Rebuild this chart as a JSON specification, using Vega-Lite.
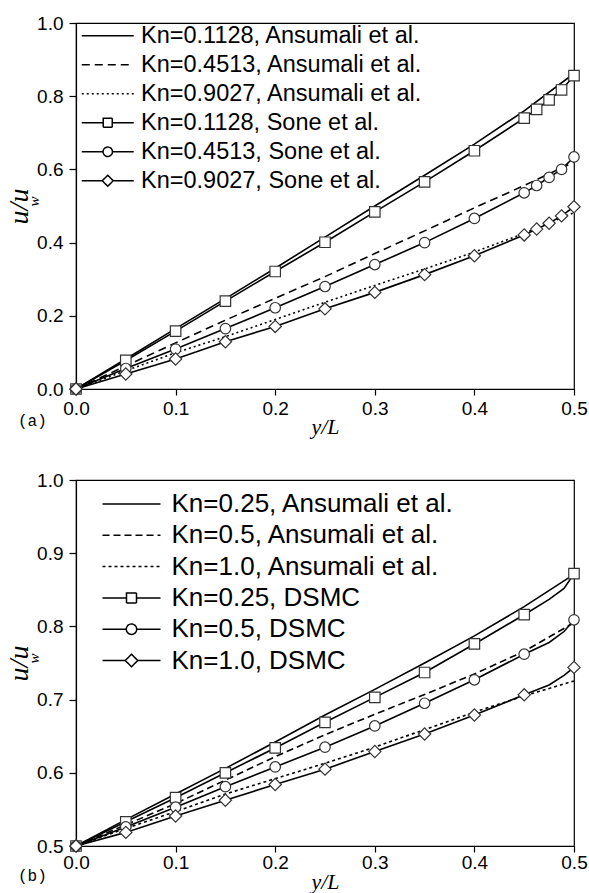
{
  "$schema": "https://vega.github.io/schema/vega-lite/v6.json",
  "background": "white",
  "padding": {"left": 4, "top": 13, "right": 0, "bottom": 0},
  "spacing": 32,
  "config": {
    "view": {"stroke": "black", "strokeWidth": 1.2},
    "axis": {
      "grid": false,
      "labelFont": "Liberation Sans",
      "labelFontSize": 19,
      "labelColor": "black",
      "domainColor": "black",
      "domainWidth": 1.2,
      "tickColor": "black",
      "tickWidth": 1.2,
      "tickSize": 6,
      "titleFont": "Liberation Serif",
      "titleFontStyle": "italic",
      "titleFontWeight": "normal",
      "titleColor": "black"
    },
    "title": {"font": "Liberation Mono", "fontSize": 16, "fontWeight": "normal", "color": "black"}
  },
  "resolve": {
    "scale": {"shape": "independent", "strokeDash": "independent"},
    "legend": {"shape": "independent", "strokeDash": "independent"}
  },
  "datasets": {
    "a_curves": [
      {"series": "Kn=0.1128, Ansumali et al.", "y_L": 0, "u_uw": 0},
      {"series": "Kn=0.1128, Ansumali et al.", "y_L": 0.05, "u_uw": 0.082},
      {"series": "Kn=0.1128, Ansumali et al.", "y_L": 0.1, "u_uw": 0.165},
      {"series": "Kn=0.1128, Ansumali et al.", "y_L": 0.15, "u_uw": 0.247},
      {"series": "Kn=0.1128, Ansumali et al.", "y_L": 0.2, "u_uw": 0.33},
      {"series": "Kn=0.1128, Ansumali et al.", "y_L": 0.25, "u_uw": 0.415},
      {"series": "Kn=0.1128, Ansumali et al.", "y_L": 0.3, "u_uw": 0.5},
      {"series": "Kn=0.1128, Ansumali et al.", "y_L": 0.35, "u_uw": 0.584},
      {"series": "Kn=0.1128, Ansumali et al.", "y_L": 0.4, "u_uw": 0.669},
      {"series": "Kn=0.1128, Ansumali et al.", "y_L": 0.45, "u_uw": 0.76},
      {"series": "Kn=0.1128, Ansumali et al.", "y_L": 0.5, "u_uw": 0.862},
      {"series": "Kn=0.4513, Ansumali et al.", "y_L": 0, "u_uw": 0},
      {"series": "Kn=0.4513, Ansumali et al.", "y_L": 0.05, "u_uw": 0.063},
      {"series": "Kn=0.4513, Ansumali et al.", "y_L": 0.1, "u_uw": 0.126},
      {"series": "Kn=0.4513, Ansumali et al.", "y_L": 0.15, "u_uw": 0.188},
      {"series": "Kn=0.4513, Ansumali et al.", "y_L": 0.2, "u_uw": 0.248},
      {"series": "Kn=0.4513, Ansumali et al.", "y_L": 0.25, "u_uw": 0.307},
      {"series": "Kn=0.4513, Ansumali et al.", "y_L": 0.3, "u_uw": 0.37},
      {"series": "Kn=0.4513, Ansumali et al.", "y_L": 0.35, "u_uw": 0.432},
      {"series": "Kn=0.4513, Ansumali et al.", "y_L": 0.4, "u_uw": 0.495},
      {"series": "Kn=0.4513, Ansumali et al.", "y_L": 0.45, "u_uw": 0.556},
      {"series": "Kn=0.4513, Ansumali et al.", "y_L": 0.5, "u_uw": 0.62},
      {"series": "Kn=0.9027, Ansumali et al.", "y_L": 0, "u_uw": 0},
      {"series": "Kn=0.9027, Ansumali et al.", "y_L": 0.05, "u_uw": 0.05},
      {"series": "Kn=0.9027, Ansumali et al.", "y_L": 0.1, "u_uw": 0.099},
      {"series": "Kn=0.9027, Ansumali et al.", "y_L": 0.15, "u_uw": 0.143},
      {"series": "Kn=0.9027, Ansumali et al.", "y_L": 0.2, "u_uw": 0.19},
      {"series": "Kn=0.9027, Ansumali et al.", "y_L": 0.25, "u_uw": 0.237},
      {"series": "Kn=0.9027, Ansumali et al.", "y_L": 0.3, "u_uw": 0.283},
      {"series": "Kn=0.9027, Ansumali et al.", "y_L": 0.35, "u_uw": 0.328},
      {"series": "Kn=0.9027, Ansumali et al.", "y_L": 0.4, "u_uw": 0.374},
      {"series": "Kn=0.9027, Ansumali et al.", "y_L": 0.45, "u_uw": 0.425},
      {"series": "Kn=0.9027, Ansumali et al.", "y_L": 0.5, "u_uw": 0.482},
      {"series": "Kn=0.1128, Sone et al.", "y_L": 0, "u_uw": 0},
      {"series": "Kn=0.1128, Sone et al.", "y_L": 0.05, "u_uw": 0.078},
      {"series": "Kn=0.1128, Sone et al.", "y_L": 0.1, "u_uw": 0.158},
      {"series": "Kn=0.1128, Sone et al.", "y_L": 0.15, "u_uw": 0.24},
      {"series": "Kn=0.1128, Sone et al.", "y_L": 0.2, "u_uw": 0.321},
      {"series": "Kn=0.1128, Sone et al.", "y_L": 0.25, "u_uw": 0.401},
      {"series": "Kn=0.1128, Sone et al.", "y_L": 0.3, "u_uw": 0.484},
      {"series": "Kn=0.1128, Sone et al.", "y_L": 0.35, "u_uw": 0.566},
      {"series": "Kn=0.1128, Sone et al.", "y_L": 0.4, "u_uw": 0.651},
      {"series": "Kn=0.1128, Sone et al.", "y_L": 0.45, "u_uw": 0.74},
      {"series": "Kn=0.1128, Sone et al.", "y_L": 0.4625, "u_uw": 0.764},
      {"series": "Kn=0.1128, Sone et al.", "y_L": 0.475, "u_uw": 0.79},
      {"series": "Kn=0.1128, Sone et al.", "y_L": 0.4875, "u_uw": 0.817},
      {"series": "Kn=0.1128, Sone et al.", "y_L": 0.5, "u_uw": 0.856},
      {"series": "Kn=0.4513, Sone et al.", "y_L": 0, "u_uw": 0},
      {"series": "Kn=0.4513, Sone et al.", "y_L": 0.05, "u_uw": 0.056},
      {"series": "Kn=0.4513, Sone et al.", "y_L": 0.1, "u_uw": 0.109},
      {"series": "Kn=0.4513, Sone et al.", "y_L": 0.15, "u_uw": 0.165},
      {"series": "Kn=0.4513, Sone et al.", "y_L": 0.2, "u_uw": 0.222},
      {"series": "Kn=0.4513, Sone et al.", "y_L": 0.25, "u_uw": 0.28},
      {"series": "Kn=0.4513, Sone et al.", "y_L": 0.3, "u_uw": 0.34},
      {"series": "Kn=0.4513, Sone et al.", "y_L": 0.35, "u_uw": 0.4},
      {"series": "Kn=0.4513, Sone et al.", "y_L": 0.4, "u_uw": 0.466},
      {"series": "Kn=0.4513, Sone et al.", "y_L": 0.45, "u_uw": 0.536},
      {"series": "Kn=0.4513, Sone et al.", "y_L": 0.4625, "u_uw": 0.556},
      {"series": "Kn=0.4513, Sone et al.", "y_L": 0.475, "u_uw": 0.578},
      {"series": "Kn=0.4513, Sone et al.", "y_L": 0.4875, "u_uw": 0.6},
      {"series": "Kn=0.4513, Sone et al.", "y_L": 0.5, "u_uw": 0.634},
      {"series": "Kn=0.9027, Sone et al.", "y_L": 0, "u_uw": 0},
      {"series": "Kn=0.9027, Sone et al.", "y_L": 0.05, "u_uw": 0.041},
      {"series": "Kn=0.9027, Sone et al.", "y_L": 0.1, "u_uw": 0.082},
      {"series": "Kn=0.9027, Sone et al.", "y_L": 0.15, "u_uw": 0.129},
      {"series": "Kn=0.9027, Sone et al.", "y_L": 0.2, "u_uw": 0.171},
      {"series": "Kn=0.9027, Sone et al.", "y_L": 0.25, "u_uw": 0.219},
      {"series": "Kn=0.9027, Sone et al.", "y_L": 0.3, "u_uw": 0.264},
      {"series": "Kn=0.9027, Sone et al.", "y_L": 0.35, "u_uw": 0.3125},
      {"series": "Kn=0.9027, Sone et al.", "y_L": 0.4, "u_uw": 0.364},
      {"series": "Kn=0.9027, Sone et al.", "y_L": 0.45, "u_uw": 0.421},
      {"series": "Kn=0.9027, Sone et al.", "y_L": 0.4625, "u_uw": 0.437},
      {"series": "Kn=0.9027, Sone et al.", "y_L": 0.475, "u_uw": 0.453},
      {"series": "Kn=0.9027, Sone et al.", "y_L": 0.4875, "u_uw": 0.473},
      {"series": "Kn=0.9027, Sone et al.", "y_L": 0.5, "u_uw": 0.498}
    ],
    "b_curves": [
      {"series": "Kn=0.25, Ansumali et al.", "y_L": 0, "u_uw": 0.5},
      {"series": "Kn=0.25, Ansumali et al.", "y_L": 0.05, "u_uw": 0.536},
      {"series": "Kn=0.25, Ansumali et al.", "y_L": 0.1, "u_uw": 0.571},
      {"series": "Kn=0.25, Ansumali et al.", "y_L": 0.15, "u_uw": 0.606},
      {"series": "Kn=0.25, Ansumali et al.", "y_L": 0.2, "u_uw": 0.642},
      {"series": "Kn=0.25, Ansumali et al.", "y_L": 0.25, "u_uw": 0.679},
      {"series": "Kn=0.25, Ansumali et al.", "y_L": 0.3, "u_uw": 0.714},
      {"series": "Kn=0.25, Ansumali et al.", "y_L": 0.35, "u_uw": 0.75},
      {"series": "Kn=0.25, Ansumali et al.", "y_L": 0.4, "u_uw": 0.787},
      {"series": "Kn=0.25, Ansumali et al.", "y_L": 0.45, "u_uw": 0.827},
      {"series": "Kn=0.25, Ansumali et al.", "y_L": 0.5, "u_uw": 0.871},
      {"series": "Kn=0.5, Ansumali et al.", "y_L": 0, "u_uw": 0.5},
      {"series": "Kn=0.5, Ansumali et al.", "y_L": 0.05, "u_uw": 0.529},
      {"series": "Kn=0.5, Ansumali et al.", "y_L": 0.1, "u_uw": 0.558},
      {"series": "Kn=0.5, Ansumali et al.", "y_L": 0.15, "u_uw": 0.59},
      {"series": "Kn=0.5, Ansumali et al.", "y_L": 0.2, "u_uw": 0.622},
      {"series": "Kn=0.5, Ansumali et al.", "y_L": 0.25, "u_uw": 0.652},
      {"series": "Kn=0.5, Ansumali et al.", "y_L": 0.3, "u_uw": 0.68},
      {"series": "Kn=0.5, Ansumali et al.", "y_L": 0.35, "u_uw": 0.707},
      {"series": "Kn=0.5, Ansumali et al.", "y_L": 0.4, "u_uw": 0.735},
      {"series": "Kn=0.5, Ansumali et al.", "y_L": 0.45, "u_uw": 0.766},
      {"series": "Kn=0.5, Ansumali et al.", "y_L": 0.5, "u_uw": 0.805},
      {"series": "Kn=1.0, Ansumali et al.", "y_L": 0, "u_uw": 0.5},
      {"series": "Kn=1.0, Ansumali et al.", "y_L": 0.05, "u_uw": 0.524},
      {"series": "Kn=1.0, Ansumali et al.", "y_L": 0.1, "u_uw": 0.547},
      {"series": "Kn=1.0, Ansumali et al.", "y_L": 0.15, "u_uw": 0.571},
      {"series": "Kn=1.0, Ansumali et al.", "y_L": 0.2, "u_uw": 0.592},
      {"series": "Kn=1.0, Ansumali et al.", "y_L": 0.25, "u_uw": 0.613},
      {"series": "Kn=1.0, Ansumali et al.", "y_L": 0.3, "u_uw": 0.635},
      {"series": "Kn=1.0, Ansumali et al.", "y_L": 0.35, "u_uw": 0.659},
      {"series": "Kn=1.0, Ansumali et al.", "y_L": 0.4, "u_uw": 0.683},
      {"series": "Kn=1.0, Ansumali et al.", "y_L": 0.45, "u_uw": 0.705},
      {"series": "Kn=1.0, Ansumali et al.", "y_L": 0.5, "u_uw": 0.7255},
      {"series": "Kn=0.25, DSMC", "y_L": 0, "u_uw": 0.5},
      {"series": "Kn=0.25, DSMC", "y_L": 0.05, "u_uw": 0.533},
      {"series": "Kn=0.25, DSMC", "y_L": 0.1, "u_uw": 0.566},
      {"series": "Kn=0.25, DSMC", "y_L": 0.15, "u_uw": 0.6},
      {"series": "Kn=0.25, DSMC", "y_L": 0.2, "u_uw": 0.634},
      {"series": "Kn=0.25, DSMC", "y_L": 0.25, "u_uw": 0.669},
      {"series": "Kn=0.25, DSMC", "y_L": 0.3, "u_uw": 0.703},
      {"series": "Kn=0.25, DSMC", "y_L": 0.35, "u_uw": 0.737},
      {"series": "Kn=0.25, DSMC", "y_L": 0.4, "u_uw": 0.776},
      {"series": "Kn=0.25, DSMC", "y_L": 0.45, "u_uw": 0.816},
      {"series": "Kn=0.25, DSMC", "y_L": 0.475, "u_uw": 0.837},
      {"series": "Kn=0.25, DSMC", "y_L": 0.49, "u_uw": 0.852},
      {"series": "Kn=0.25, DSMC", "y_L": 0.5, "u_uw": 0.872},
      {"series": "Kn=0.5, DSMC", "y_L": 0, "u_uw": 0.5},
      {"series": "Kn=0.5, DSMC", "y_L": 0.05, "u_uw": 0.526},
      {"series": "Kn=0.5, DSMC", "y_L": 0.1, "u_uw": 0.553},
      {"series": "Kn=0.5, DSMC", "y_L": 0.15, "u_uw": 0.581},
      {"series": "Kn=0.5, DSMC", "y_L": 0.2, "u_uw": 0.608},
      {"series": "Kn=0.5, DSMC", "y_L": 0.25, "u_uw": 0.635},
      {"series": "Kn=0.5, DSMC", "y_L": 0.3, "u_uw": 0.664},
      {"series": "Kn=0.5, DSMC", "y_L": 0.35, "u_uw": 0.695},
      {"series": "Kn=0.5, DSMC", "y_L": 0.4, "u_uw": 0.727},
      {"series": "Kn=0.5, DSMC", "y_L": 0.45, "u_uw": 0.762},
      {"series": "Kn=0.5, DSMC", "y_L": 0.475, "u_uw": 0.778},
      {"series": "Kn=0.5, DSMC", "y_L": 0.49, "u_uw": 0.793},
      {"series": "Kn=0.5, DSMC", "y_L": 0.5, "u_uw": 0.809},
      {"series": "Kn=1.0, DSMC", "y_L": 0, "u_uw": 0.5},
      {"series": "Kn=1.0, DSMC", "y_L": 0.05, "u_uw": 0.5186},
      {"series": "Kn=1.0, DSMC", "y_L": 0.1, "u_uw": 0.541},
      {"series": "Kn=1.0, DSMC", "y_L": 0.15, "u_uw": 0.5625},
      {"series": "Kn=1.0, DSMC", "y_L": 0.2, "u_uw": 0.584},
      {"series": "Kn=1.0, DSMC", "y_L": 0.25, "u_uw": 0.605},
      {"series": "Kn=1.0, DSMC", "y_L": 0.3, "u_uw": 0.629},
      {"series": "Kn=1.0, DSMC", "y_L": 0.35, "u_uw": 0.653},
      {"series": "Kn=1.0, DSMC", "y_L": 0.4, "u_uw": 0.679},
      {"series": "Kn=1.0, DSMC", "y_L": 0.45, "u_uw": 0.7065},
      {"series": "Kn=1.0, DSMC", "y_L": 0.475, "u_uw": 0.72},
      {"series": "Kn=1.0, DSMC", "y_L": 0.49, "u_uw": 0.733},
      {"series": "Kn=1.0, DSMC", "y_L": 0.5, "u_uw": 0.744}
    ],
    "b_points": [
      {"series": "Kn=0.25, DSMC", "y_L": 0, "u_uw": 0.5},
      {"series": "Kn=0.25, DSMC", "y_L": 0.05, "u_uw": 0.533},
      {"series": "Kn=0.25, DSMC", "y_L": 0.1, "u_uw": 0.566},
      {"series": "Kn=0.25, DSMC", "y_L": 0.15, "u_uw": 0.6},
      {"series": "Kn=0.25, DSMC", "y_L": 0.2, "u_uw": 0.634},
      {"series": "Kn=0.25, DSMC", "y_L": 0.25, "u_uw": 0.669},
      {"series": "Kn=0.25, DSMC", "y_L": 0.3, "u_uw": 0.703},
      {"series": "Kn=0.25, DSMC", "y_L": 0.35, "u_uw": 0.737},
      {"series": "Kn=0.25, DSMC", "y_L": 0.4, "u_uw": 0.776},
      {"series": "Kn=0.25, DSMC", "y_L": 0.45, "u_uw": 0.816},
      {"series": "Kn=0.25, DSMC", "y_L": 0.5, "u_uw": 0.872},
      {"series": "Kn=0.5, DSMC", "y_L": 0, "u_uw": 0.5},
      {"series": "Kn=0.5, DSMC", "y_L": 0.05, "u_uw": 0.526},
      {"series": "Kn=0.5, DSMC", "y_L": 0.1, "u_uw": 0.553},
      {"series": "Kn=0.5, DSMC", "y_L": 0.15, "u_uw": 0.581},
      {"series": "Kn=0.5, DSMC", "y_L": 0.2, "u_uw": 0.608},
      {"series": "Kn=0.5, DSMC", "y_L": 0.25, "u_uw": 0.635},
      {"series": "Kn=0.5, DSMC", "y_L": 0.3, "u_uw": 0.664},
      {"series": "Kn=0.5, DSMC", "y_L": 0.35, "u_uw": 0.695},
      {"series": "Kn=0.5, DSMC", "y_L": 0.4, "u_uw": 0.727},
      {"series": "Kn=0.5, DSMC", "y_L": 0.45, "u_uw": 0.762},
      {"series": "Kn=0.5, DSMC", "y_L": 0.5, "u_uw": 0.809},
      {"series": "Kn=1.0, DSMC", "y_L": 0, "u_uw": 0.5},
      {"series": "Kn=1.0, DSMC", "y_L": 0.05, "u_uw": 0.5186},
      {"series": "Kn=1.0, DSMC", "y_L": 0.1, "u_uw": 0.541},
      {"series": "Kn=1.0, DSMC", "y_L": 0.15, "u_uw": 0.5625},
      {"series": "Kn=1.0, DSMC", "y_L": 0.2, "u_uw": 0.584},
      {"series": "Kn=1.0, DSMC", "y_L": 0.25, "u_uw": 0.605},
      {"series": "Kn=1.0, DSMC", "y_L": 0.3, "u_uw": 0.629},
      {"series": "Kn=1.0, DSMC", "y_L": 0.35, "u_uw": 0.653},
      {"series": "Kn=1.0, DSMC", "y_L": 0.4, "u_uw": 0.679},
      {"series": "Kn=1.0, DSMC", "y_L": 0.45, "u_uw": 0.7065},
      {"series": "Kn=1.0, DSMC", "y_L": 0.5, "u_uw": 0.744}
    ]
  },
  "vconcat": [
    {
      "width": 498,
      "height": 366,
      "title": {"text": "(a)", "orient": "bottom", "anchor": "start", "frame": "group", "offset": 0, "dx": -58, "dy": -24},
      "resolve": {"axis": {"y": "independent"}},
      "encoding": {
        "x": {"field": "y_L", "type": "quantitative", "scale": {"domain": [0, 0.5], "nice": false},
          "axis": {"values": [0, 0.1, 0.2, 0.3, 0.4, 0.5], "format": ".1f", "title": "y/L", "titleFontSize": 22, "labelPadding": 4, "labelFlush": false, "titlePadding": -2}}
      },
      "layer": [
        {
          "data": {"name": "a_curves"},
          "transform": [{"filter": "datum.series !== 'Kn=0.4513, Ansumali et al.' && datum.series !== 'Kn=0.9027, Ansumali et al.'"}],
          "mark": {"type": "line", "strokeWidth": 1.6, "color": "black"},
          "encoding": {
            "y": {"field": "u_uw", "type": "quantitative", "scale": {"domain": [0, 1], "nice": false},
              "axis": {"values": [0, 0.2, 0.4, 0.6, 0.8, 1.0], "format": ".1f", "title": "u/u", "titleFontSize": 28, "tickSize": 7, "labelPadding": 6, "titlePadding": 3}},
            "detail": {"field": "series", "type": "nominal"}
          }
        },
        {
          "data": {"name": "a_curves"},
          "transform": [{"filter": "datum.series === 'Kn=0.4513, Ansumali et al.'"}],
          "mark": {"type": "line", "strokeWidth": 1.6, "color": "black", "strokeDash": [8, 5]},
          "encoding": {"y": {"field": "u_uw", "type": "quantitative", "axis": null}}
        },
        {
          "data": {"name": "a_curves"},
          "transform": [{"filter": "datum.series === 'Kn=0.9027, Ansumali et al.'"}],
          "mark": {"type": "line", "strokeWidth": 1.6, "color": "black", "strokeDash": [2, 3]},
          "encoding": {"y": {"field": "u_uw", "type": "quantitative", "axis": null}}
        },
        {
          "data": {"name": "a_curves"},
          "transform": [{"filter": "datum.series === 'Kn=0.1128, Sone et al.'"}],
          "mark": {"type": "point", "shape": "square", "size": 110, "fill": "white", "stroke": "#333333", "strokeWidth": 1.2, "opacity": 1},
          "encoding": {"y": {"field": "u_uw", "type": "quantitative", "axis": null}}
        },
        {
          "data": {"name": "a_curves"},
          "transform": [{"filter": "datum.series === 'Kn=0.4513, Sone et al.'"}],
          "mark": {"type": "point", "shape": "circle", "size": 110, "fill": "white", "stroke": "#333333", "strokeWidth": 1.2, "opacity": 1},
          "encoding": {"y": {"field": "u_uw", "type": "quantitative", "axis": null}}
        },
        {
          "data": {"name": "a_curves"},
          "transform": [{"filter": "datum.series === 'Kn=0.9027, Sone et al.'"}],
          "mark": {"type": "point", "shape": "diamond", "size": 150, "fill": "white", "stroke": "#333333", "strokeWidth": 1.2, "opacity": 1},
          "encoding": {"y": {"field": "u_uw", "type": "quantitative", "axis": null}}
        },
        {
          "data": {"name": "a_curves"},
          "transform": [{"filter": "false"}],
          "mark": {"type": "point", "size": 100, "fill": "white", "stroke": "black", "strokeWidth": 1.5, "opacity": 1},
          "encoding": {
            "y": {"field": "u_uw", "type": "quantitative",
              "axis": {"orient": "left", "title": "\u00a0\u00a0\u00a0\u00a0w", "titleFontSize": 15, "titleAlign": "left", "labels": false, "ticks": false, "domain": false, "titlePadding": 35}},
            "shape": {"field": "series", "type": "nominal",
              "scale": {"domain": ["Kn=0.1128, Ansumali et al.", "Kn=0.4513, Ansumali et al.", "Kn=0.9027, Ansumali et al.", "Kn=0.1128, Sone et al.", "Kn=0.4513, Sone et al.", "Kn=0.9027, Sone et al."],
                "range": ["M-5.2,0H5.2", "M-5.2,0H5.2", "M-5.2,0H5.2",
                  "M-5.2,0H-0.9M0.9,0H5.2M-0.9,-0.9H0.9V0.9H-0.9Z",
                  "M-5.2,0H-0.94M0.94,0H5.2M-0.94,0A0.94,0.94,0,1,1,0.94,0A0.94,0.94,0,1,1,-0.94,0Z",
                  "M-5.2,0H-1.1M1.1,0H5.2M-1.1,0L0,-1.1L1.1,0L0,1.1Z"]},
              "legend": {"title": null, "orient": "none", "legendX": 20, "legendY": 1, "padding": 0, "labelFont": "Liberation Sans", "labelFontSize": 23.5, "labelColor": "black", "labelLimit": 600, "symbolSize": 100, "rowPadding": 4, "labelOffset": 21.5, "symbolStrokeWidth": 1.5}},
            "strokeDash": {"field": "series", "type": "nominal",
              "scale": {"domain": ["Kn=0.1128, Ansumali et al.", "Kn=0.4513, Ansumali et al.", "Kn=0.9027, Ansumali et al.", "Kn=0.1128, Sone et al.", "Kn=0.4513, Sone et al.", "Kn=0.9027, Sone et al."],
                "range": [[1, 0], [8, 5], [2, 3], [1, 0], [1, 0], [1, 0]]},
              "legend": {"title": null, "orient": "none", "legendX": 20, "legendY": 1, "padding": 0, "labelFont": "Liberation Sans", "labelFontSize": 23.5, "labelColor": "black", "labelLimit": 600, "symbolSize": 100, "rowPadding": 4, "labelOffset": 21.5, "symbolStrokeWidth": 1.5}}
          }
        }
      ]
    },
    {
      "width": 498,
      "height": 366,
      "title": {"text": "(b)", "orient": "bottom", "anchor": "start", "frame": "group", "offset": 0, "dx": -58, "dy": -24},
      "resolve": {"axis": {"y": "independent"}},
      "encoding": {
        "x": {"field": "y_L", "type": "quantitative", "scale": {"domain": [0, 0.5], "nice": false},
          "axis": {"values": [0, 0.1, 0.2, 0.3, 0.4, 0.5], "format": ".1f", "title": "y/L", "titleFontSize": 22, "labelPadding": 1, "labelFlush": false, "titlePadding": -1}}
      },
      "layer": [
        {
          "data": {"name": "b_curves"},
          "transform": [{"filter": "datum.series !== 'Kn=0.5, Ansumali et al.' && datum.series !== 'Kn=1.0, Ansumali et al.'"}],
          "mark": {"type": "line", "strokeWidth": 1.6, "color": "black"},
          "encoding": {
            "y": {"field": "u_uw", "type": "quantitative", "scale": {"domain": [0.5, 1], "nice": false, "zero": false},
              "axis": {"values": [0.5, 0.6, 0.7, 0.8, 0.9, 1.0], "format": ".1f", "title": "u/u", "titleFontSize": 28, "tickSize": 7, "labelPadding": 6, "titlePadding": 3}},
            "detail": {"field": "series", "type": "nominal"}
          }
        },
        {
          "data": {"name": "b_curves"},
          "transform": [{"filter": "datum.series === 'Kn=0.5, Ansumali et al.'"}],
          "mark": {"type": "line", "strokeWidth": 1.6, "color": "black", "strokeDash": [7, 4]},
          "encoding": {"y": {"field": "u_uw", "type": "quantitative", "axis": null}}
        },
        {
          "data": {"name": "b_curves"},
          "transform": [{"filter": "datum.series === 'Kn=1.0, Ansumali et al.'"}],
          "mark": {"type": "line", "strokeWidth": 1.6, "color": "black", "strokeDash": [3, 3]},
          "encoding": {"y": {"field": "u_uw", "type": "quantitative", "axis": null}}
        },
        {
          "data": {"name": "b_points"},
          "transform": [{"filter": "datum.series === 'Kn=0.25, DSMC'"}],
          "mark": {"type": "point", "shape": "square", "size": 110, "fill": "white", "stroke": "#333333", "strokeWidth": 1.2, "opacity": 1},
          "encoding": {"y": {"field": "u_uw", "type": "quantitative", "axis": null}}
        },
        {
          "data": {"name": "b_points"},
          "transform": [{"filter": "datum.series === 'Kn=0.5, DSMC'"}],
          "mark": {"type": "point", "shape": "circle", "size": 110, "fill": "white", "stroke": "#333333", "strokeWidth": 1.2, "opacity": 1},
          "encoding": {"y": {"field": "u_uw", "type": "quantitative", "axis": null}}
        },
        {
          "data": {"name": "b_points"},
          "transform": [{"filter": "datum.series === 'Kn=1.0, DSMC'"}],
          "mark": {"type": "point", "shape": "diamond", "size": 150, "fill": "white", "stroke": "#333333", "strokeWidth": 1.2, "opacity": 1},
          "encoding": {"y": {"field": "u_uw", "type": "quantitative", "axis": null}}
        },
        {
          "data": {"name": "b_curves"},
          "transform": [{"filter": "false"}],
          "mark": {"type": "point", "size": 100, "fill": "white", "stroke": "black", "strokeWidth": 1.5, "opacity": 1},
          "encoding": {
            "y": {"field": "u_uw", "type": "quantitative",
              "axis": {"orient": "left", "title": "\u00a0\u00a0\u00a0\u00a0w", "titleFontSize": 15, "titleAlign": "left", "labels": false, "ticks": false, "domain": false, "titlePadding": 35}},
            "shape": {"field": "series", "type": "nominal",
              "scale": {"domain": ["Kn=0.25, Ansumali et al.", "Kn=0.5, Ansumali et al.", "Kn=1.0, Ansumali et al.", "Kn=0.25, DSMC", "Kn=0.5, DSMC", "Kn=1.0, DSMC"],
                "range": ["M-5.8,0H5.8", "M-5.8,0H5.8", "M-5.8,0H5.8",
                  "M-5.8,0H-1M1,0H5.8M-1,-1H1V1H-1Z",
                  "M-5.8,0H-1.04M1.04,0H5.8M-1.04,0A1.04,1.04,0,1,1,1.04,0A1.04,1.04,0,1,1,-1.04,0Z",
                  "M-5.8,0H-1.25M1.25,0H5.8M-1.25,0L0,-1.25L1.25,0L0,1.25Z"]},
              "legend": {"title": null, "orient": "none", "legendX": 42.5, "legendY": 11, "padding": 0, "labelFont": "Liberation Sans", "labelFontSize": 26, "labelColor": "black", "labelLimit": 600, "symbolSize": 100, "rowPadding": 5.3, "labelOffset": 27, "symbolStrokeWidth": 1.5}},
            "strokeDash": {"field": "series", "type": "nominal",
              "scale": {"domain": ["Kn=0.25, Ansumali et al.", "Kn=0.5, Ansumali et al.", "Kn=1.0, Ansumali et al.", "Kn=0.25, DSMC", "Kn=0.5, DSMC", "Kn=1.0, DSMC"],
                "range": [[1, 0], [7, 4], [3, 3], [1, 0], [1, 0], [1, 0]]},
              "legend": {"title": null, "orient": "none", "legendX": 42.5, "legendY": 11, "padding": 0, "labelFont": "Liberation Sans", "labelFontSize": 26, "labelColor": "black", "labelLimit": 600, "symbolSize": 100, "rowPadding": 5.3, "labelOffset": 27, "symbolStrokeWidth": 1.5}}
          }
        }
      ]
    }
  ]
}
